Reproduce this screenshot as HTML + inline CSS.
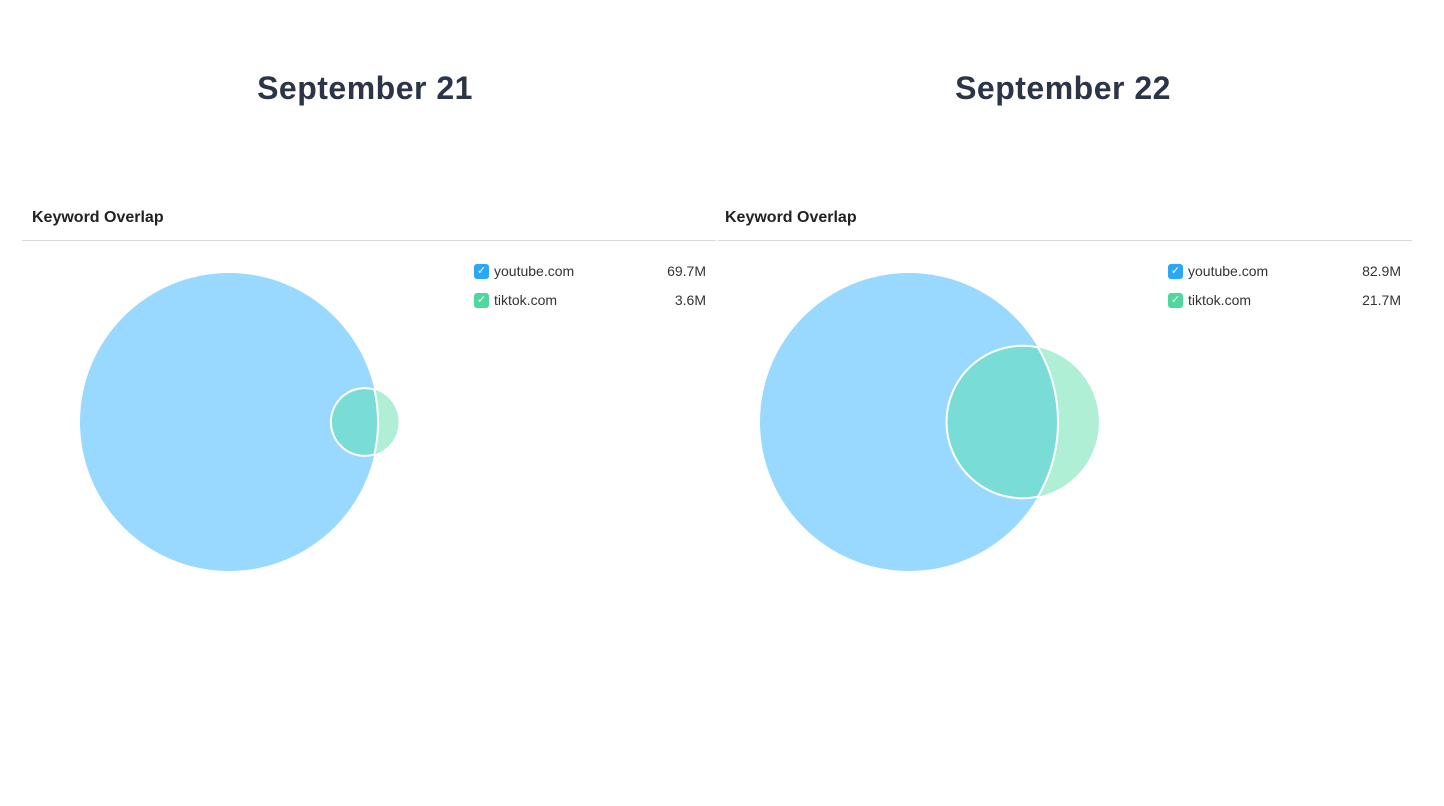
<!DOCTYPE html>
<html><head><meta charset="utf-8"><style>
body{margin:0;width:1444px;height:806px;background:#fff;font-family:"Liberation Sans",sans-serif;position:relative;overflow:hidden}
.t{position:absolute;top:70px;font-size:32px;font-weight:bold;color:#2b3547;letter-spacing:0.5px;text-align:center;width:500px}
.h{position:absolute;top:209px;font-size:16px;font-weight:bold;color:#222}
.ln{position:absolute;top:240px;height:1px;background:#d8d8dc}
.cb{position:absolute;width:15px;height:15px;border-radius:3px;color:#fff;font-size:11px;line-height:15px;text-align:center}
.lt{position:absolute;font-size:14px;color:#333}
.lv{position:absolute;font-size:14px;color:#333;text-align:right;width:100px}
</style></head><body>
<div class="t" style="left:115px">September 21</div>
<div class="t" style="left:813px">September 22</div>
<div class="h" style="left:32px">Keyword Overlap</div>
<div class="h" style="left:725px">Keyword Overlap</div>
<div class="ln" style="left:22px;width:694px"></div>
<div class="ln" style="left:718px;width:694px"></div>
<svg id="v" width="1444" height="806" style="position:absolute;left:0;top:0"></svg>
<div id="leg"></div>
<script>
const domains=["youtube.com","tiktok.com"];
const labels=["69.7M","3.6M","82.9M","21.7M"];
const sep21=[69.7,3.6];
const sep22=[82.9,21.7];
const overlaps=[2.6,16.0];
const panels=[{v:sep21,o:overlaps[0],cx:229,lx:474,vr:706,li:0},{v:sep22,o:overlaps[1],cx:909,lx:1168,vr:1401,li:2}];
const NS="http://www.w3.org/2000/svg",svg=document.getElementById('v'),leg=document.getElementById('leg');
function lens(r1,r2,d){if(d>=r1+r2)return 0;if(d<=Math.abs(r1-r2))return Math.PI*Math.min(r1,r2)**2;
const a=r1*r1*Math.acos((d*d+r1*r1-r2*r2)/(2*d*r1)),b=r2*r2*Math.acos((d*d+r2*r2-r1*r1)/(2*d*r2));
return a+b-0.5*Math.sqrt((-d+r1+r2)*(d+r1-r2)*(d-r1+r2)*(d+r1+r2));}
const R=149,cy=422;
panels.forEach((p,i)=>{
 const r1=R,r2=R*Math.sqrt(p.v[1]/p.v[0]);
 const target=Math.PI*r2*r2*(p.o/p.v[1]);
 let lo=Math.abs(r1-r2),hi=r1+r2;
 for(let k=0;k<60;k++){const m=(lo+hi)/2;if(lens(r1,r2,m)>target)lo=m;else hi=m;}
 const d=(lo+hi)/2,x1=p.cx,x2=p.cx+d;
 const c1=document.createElementNS(NS,'circle');
 
 
 c1.setAttribute('cx',x1);c1.setAttribute('cy',cy);c1.setAttribute('r',r1);c1.setAttribute('fill','#99d9ff');svg.appendChild(c1);
 const c2=document.createElementNS(NS,'circle');
 
 
 c2.setAttribute('cx',x2);c2.setAttribute('cy',cy);c2.setAttribute('r',r2);c2.setAttribute('fill','#aeefd6');svg.appendChild(c2);
 // lens
 const xi=(d*d-r2*r2+r1*r1)/(2*d),yi=Math.sqrt(Math.max(0,r1*r1-xi*xi));
 const px=x1+xi;
 const pth=document.createElementNS(NS,'path');
 
 
 pth.setAttribute('d',`M${px},${cy-yi} A${r1},${r1} 0 0 1 ${px},${cy+yi} A${r2},${r2} 0 ${xi>d?1:0} 1 ${px},${cy-yi} Z`);
 pth.setAttribute('fill','#7adcd6');pth.setAttribute('stroke','#fff');pth.setAttribute('stroke-width','2');svg.appendChild(pth);
 const cols=['#2aa8f5','#4fd7a0'];
 domains.forEach((dm,j)=>{
  const y=264+j*29;
  const cb=document.createElement('div');cb.className='cb';cb.textContent='✓';
  
  
  cb.style.left=p.lx+'px';cb.style.top=y+'px';cb.style.background=cols[j];leg.appendChild(cb);
  const t=document.createElement('div');t.className='lt';t.textContent=dm;
  
  
  t.style.left=(p.lx+20)+'px';t.style.top=(y-1)+'px';leg.appendChild(t);
  const v=document.createElement('div');v.className='lv';v.textContent=labels[p.li+j];
  
  
  v.style.left=(p.vr-100)+'px';v.style.top=(y-1)+'px';leg.appendChild(v);
 });
});
</script>
</body></html>
